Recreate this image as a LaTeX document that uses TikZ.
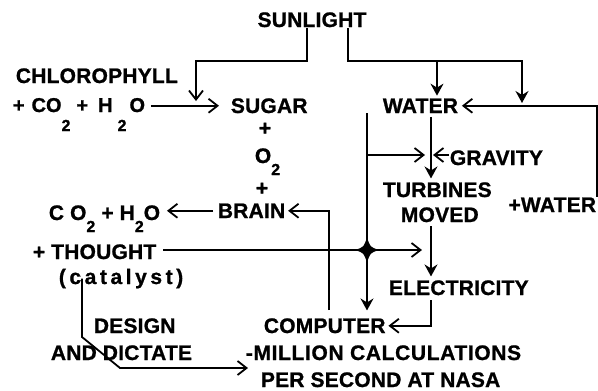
\documentclass[tikz,border=0pt]{standalone}
\usepackage{fontspec}
\setmainfont{Liberation Sans}
\usetikzlibrary{arrows.meta}
\newcommand{\sub}[2][-12pt]{\raisebox{#1}{\fontsize{16}{16}\selectfont #2}}

\begin{document}
\begin{tikzpicture}[
  x=1pt, y=-1pt, line width=1.8pt,
  every node/.style={font=\fontsize{21}{23}\selectfont\bfseries\addfontfeature{LetterSpace=1,FakeBold=1}, inner sep=0pt},
  barb/.style={-{Straight Barb[length=9pt,width=14pt]}},
  down/.style={-{Stealth[length=12pt,width=13pt,inset=4pt]}}
]
\useasboundingbox (0,0) rectangle (598,391);
\node[anchor=base] (sun) at (312,27) {SUNLIGHT};
\node[anchor=base west] (chl) at (15,83) {CHLOROPHYLL};
\node[anchor=base west, font=\fontsize{20}{22}\selectfont\bfseries\addfontfeature{FakeBold=1}] (eq) at (12,112)
  {+\hspace{7pt}CO\sub[-19pt]{2}\hspace{6pt}+\hspace{10pt}H\hspace{5pt}\sub[-19pt]{2}\hspace{3pt}O};
\node[anchor=base west] (sugar) at (230,113) {SUGAR};
\node (p1) at (265,129) {+};
\node[anchor=base west] (o2) at (254,163) {O\sub2};
\node (p2) at (262,189) {+};
\node[anchor=base west] (brain) at (217,218) {BRAIN};
\node[anchor=base west] (co2) at (48,220) {C O\sub2 + H\sub2O};
\node[anchor=base west] (thought) at (32,259) {+ THOUGHT};
\node[anchor=base west, font=\fontsize{21}{23}\selectfont\bfseries\addfontfeature{LetterSpace=17,FakeBold=1}] (cat) at (58,284) {(catalyst)};
\node[anchor=base west] (design) at (93,333) {DESIGN};
\node[anchor=base west] (dict) at (50,360) {AND DICTATE};
\node[anchor=base west] (water) at (382,113) {WATER};
\node[anchor=base west] (grav) at (449,165) {GRAVITY};
\node[anchor=base west] (turb) at (382,197) {TURBINES};
\node[anchor=base west] (moved) at (400,222) {MOVED};
\node[anchor=base east] (pwater) at (597,212) {+WATER};
\node[anchor=base west] (elec) at (388,295) {ELECTRICITY};
\node[anchor=base west] (comp) at (263,333) {COMPUTER};
\node[anchor=base west, font=\fontsize{21}{23}\selectfont\bfseries\addfontfeature{LetterSpace=3,FakeBold=1}] (mill) at (245,360) {-MILLION CALCULATIONS};
\node[anchor=base west] (nasa) at (260,387) {PER SECOND AT NASA};

\coordinate (sunL) at (307,61);
\coordinate (sunR) at (348,61);
\coordinate (rainW) at (437,61);
\coordinate (sugtip) at (196,101);
\coordinate (rain) at (522,103);
\coordinate (vtop) at (367,113);
\coordinate (wt) at (431,155);
\coordinate (hub) at (367,250);
\coordinate (tend) at (422,250);
\coordinate (cb) at (329,310);
\coordinate (k1) at (82,337);
\coordinate (k2) at (120,368);
\coordinate (ktip) at (248,368);

\draw[barb] (sun.south -| sunL) -- (sunL) -| (sugtip);
\draw[down] (sun.south -| sunR) -- (sunR) -| (rain);
\draw[down, shorten >=2pt] (rainW) -- (water.north -| rainW);
\draw[barb, shorten >=3pt] (pwater.north east) |- (water.east);
\draw[barb, shorten <=5pt, shorten >=11pt] (eq.east |- sugar.west) -- (sugar.west);
\draw[down, shorten >=7pt] (vtop) -- (comp.north -| vtop);
\draw[barb, shorten >=6pt] (vtop |- wt) -- (wt);
\draw[barb, shorten >=2pt] (grav.west |- wt) -- (wt);
\draw[down, shorten <=3pt, shorten >=3pt] (water.south -| wt) -- (turb.north -| wt);
\draw[down, shorten <=3pt, shorten >=3pt] (moved.south -| wt) -- (elec.north -| wt);
\draw[barb, shorten <=4pt, shorten >=2pt] (elec.south -| wt) |- (comp.east);
\draw[barb, shorten >=2pt] (cb) |- (brain.east);
\draw[barb, shorten <=4pt, shorten >=6pt] (brain.west) -- (brain.west -| co2.east);
\draw[barb, shorten <=6pt] (thought.east |- hub) -- (tend);
\draw[barb] (cat.center -| k1) -- (k1) -- (k2) -- (ktip);
\fill[shift={(hub)}] (0,-13) .. controls (3,-3) .. (12,0) .. controls (3,3) .. (0,13)
  .. controls (-3,3) .. (-12,0) .. controls (-3,-3) .. cycle;
\end{tikzpicture}
\end{document}
